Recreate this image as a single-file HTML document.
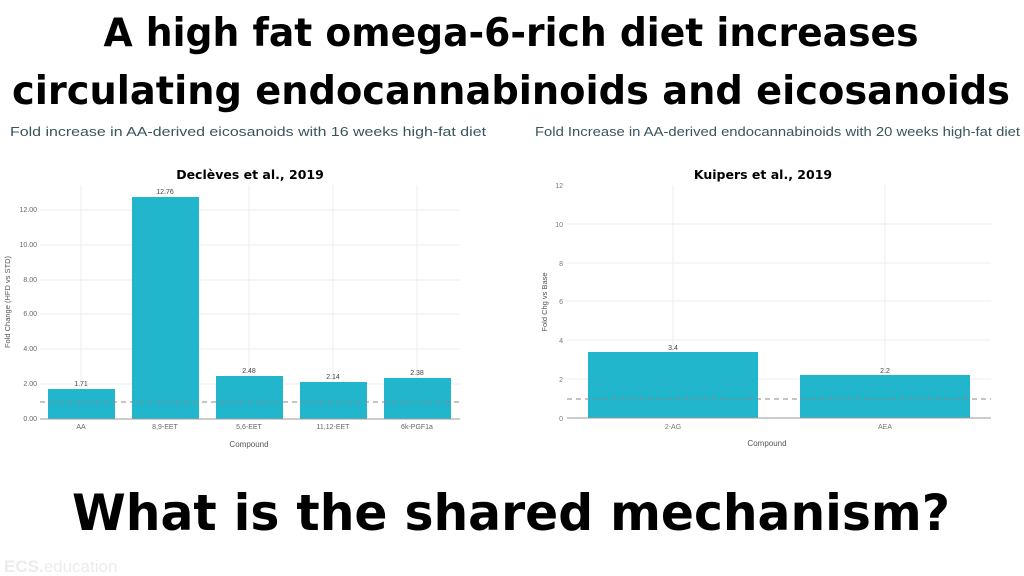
<!DOCTYPE html>
<html><head><meta charset="utf-8"><style>
html,body{margin:0;padding:0;background:#fff}
svg{display:block}
text{font-family:"Liberation Sans",sans-serif}
.h{font-family:"DejaVu Sans","Liberation Sans",sans-serif}
</style></head><body>
<svg width="1024" height="576" viewBox="0 0 1024 576" xmlns="http://www.w3.org/2000/svg">
<rect width="1024" height="576" fill="#fff"/>
<g font-weight="bold" fill="#000" class="h">
<text class="h" x="511" y="46" font-size="39" text-anchor="middle" textLength="815" lengthAdjust="spacingAndGlyphs">A high fat omega-6-rich diet increases</text>
<text class="h" x="511" y="104" font-size="39" text-anchor="middle" textLength="998" lengthAdjust="spacingAndGlyphs">circulating endocannabinoids and eicosanoids</text>
<text class="h" x="511" y="530" font-size="50" text-anchor="middle" textLength="878" lengthAdjust="spacingAndGlyphs">What is the shared mechanism?</text>
</g>
<g fill="#3a5560" font-size="13">
<text x="10" y="136" textLength="476" lengthAdjust="spacingAndGlyphs">Fold increase in AA-derived eicosanoids with 16 weeks high-fat diet</text>
<text x="535" y="136" textLength="485" lengthAdjust="spacingAndGlyphs">Fold Increase in AA-derived endocannabinoids with 20 weeks high-fat diet</text>
</g>
<text x="4" y="572" font-size="17" fill="#ececec" font-weight="bold">ECS.<tspan font-weight="normal">education</tspan></text>

<!-- Left chart -->
<text class="h" x="250" y="179" font-size="12.5" font-weight="bold" text-anchor="middle">Declèves et al., 2019</text>
<g stroke="#eee" stroke-width="1">
<line x1="40" x2="460" y1="384" y2="384"/><line x1="40" x2="460" y1="349" y2="349"/><line x1="40" x2="460" y1="314" y2="314"/>
<line x1="40" x2="460" y1="280" y2="280"/><line x1="40" x2="460" y1="245" y2="245"/><line x1="40" x2="460" y1="210" y2="210"/>
<line x1="81" x2="81" y1="185" y2="419"/><line x1="165" x2="165" y1="185" y2="419"/><line x1="249" x2="249" y1="185" y2="419"/><line x1="333" x2="333" y1="185" y2="419"/><line x1="417" x2="417" y1="185" y2="419"/>
</g>
<g fill="#21b6cc">
<rect x="48" y="389" width="67" height="30"/><rect x="132" y="197" width="67" height="222"/><rect x="216" y="376" width="67" height="43"/><rect x="300" y="382" width="67" height="37"/><rect x="384" y="378" width="67" height="41"/>
</g>
<line x1="40" x2="460" y1="419" y2="419" stroke="#999"/>
<line x1="40" x2="460" y1="402" y2="402" stroke="#888" stroke-dasharray="5,4"/>
<g font-size="7" fill="#666" text-anchor="end">
<text x="37" y="421">0.00</text><text x="37" y="386">2.00</text><text x="37" y="351">4.00</text><text x="37" y="316">6.00</text><text x="37" y="282">8.00</text><text x="37" y="247">10.00</text><text x="37" y="212">12.00</text>
</g>
<g font-size="7" fill="#444" text-anchor="middle">
<text x="81" y="386">1.71</text><text x="165" y="194">12.76</text><text x="249" y="373">2.48</text><text x="333" y="379">2.14</text><text x="417" y="375">2.38</text>
</g>
<g font-size="7" fill="#666" text-anchor="middle">
<text x="81" y="429">AA</text><text x="165" y="429">8,9-EET</text><text x="249" y="429">5,6-EET</text><text x="333" y="429">11,12-EET</text><text x="417" y="429">6k-PGF1a</text>
</g>
<text x="249" y="447" font-size="8" fill="#555" text-anchor="middle">Compound</text>
<text transform="translate(10,302) rotate(-90)" font-size="7.5" fill="#555" text-anchor="middle">Fold Change (HFD vs STD)</text>

<!-- Right chart -->
<text class="h" x="763" y="179" font-size="12.5" font-weight="bold" text-anchor="middle">Kuipers et al., 2019</text>
<g stroke="#eee" stroke-width="1">
<line x1="567" x2="991" y1="379" y2="379"/><line x1="567" x2="991" y1="340" y2="340"/><line x1="567" x2="991" y1="301" y2="301"/>
<line x1="567" x2="991" y1="263" y2="263"/><line x1="567" x2="991" y1="224" y2="224"/>
<line x1="673" x2="673" y1="185" y2="418"/><line x1="885" x2="885" y1="185" y2="418"/>
</g>
<g fill="#21b6cc">
<rect x="588" y="352" width="170" height="66"/><rect x="800" y="375" width="170" height="43"/>
</g>
<line x1="567" x2="991" y1="418" y2="418" stroke="#999"/>
<line x1="567" x2="991" y1="399" y2="399" stroke="#888" stroke-dasharray="5,4"/>
<g font-size="7" fill="#777" text-anchor="end">
<text x="563" y="421">0</text><text x="563" y="382">2</text><text x="563" y="343">4</text><text x="563" y="304">6</text><text x="563" y="266">8</text><text x="563" y="227">10</text><text x="563" y="188">12</text>
</g>
<g font-size="7" fill="#444" text-anchor="middle">
<text x="673" y="350">3.4</text><text x="885" y="373">2.2</text>
</g>
<g font-size="7" fill="#777" text-anchor="middle">
<text x="673" y="429">2-AG</text><text x="885" y="429">AEA</text>
</g>
<text x="767" y="446" font-size="8" fill="#555" text-anchor="middle">Compound</text>
<text transform="translate(547,302) rotate(-90)" font-size="7.5" fill="#555" text-anchor="middle">Fold Chg vs Base</text>
</svg>
</body></html>
